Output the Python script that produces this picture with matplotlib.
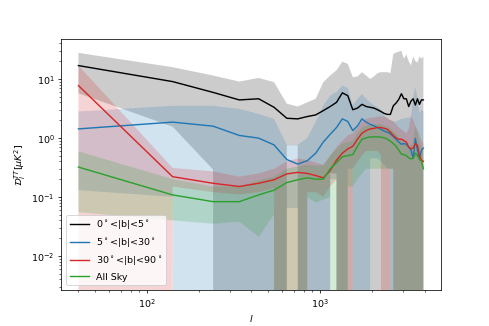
import numpy as np
import matplotlib
matplotlib.use("Agg")
import matplotlib.pyplot as plt

# multipole bins
ell = [40, 140, 240, 340, 440, 540, 640, 740, 840, 940, 1040, 1140, 1240, 1340,
       1440, 1540, 1640, 1740, 1840, 1940, 2040, 2140, 2240, 2340, 2440, 2540,
       2640, 2740, 2840, 2940, 3040, 3140, 3240, 3340, 3440, 3540, 3640, 3740,
       3840, 3940]

# 0 < |b| < 5
d_low = [16.8, 9.0, 5.9, 4.4, 4.6, 3.3, 2.15, 2.1, 2.3, 2.45, 2.9, 3.4, 4.0, 5.8,
         5.2, 3.0, 3.2, 3.7, 3.4, 3.3, 3.2, 3.0, 2.8, 2.6, 2.5, 2.5, 3.5, 3.9, 4.5,
         5.6, 4.6, 4.6, 3.4, 4.2, 4.6, 3.6, 4.6, 3.7, 4.4, 4.4]
d_low_hi = [27.6, 15.8, 11.4, 9.0, 10.4, 8.8, 3.8, 3.4, 4.0, 4.6, 8.8, 11.4, 14, 19.6,
            18, 10.7, 11, 13, 11.4, 10, 11, 12.5, 13, 13, 13, 12.5, 26.5, 28, 29, 30,
            22, 26, 20, 17, 24, 20, 19, 24, 22, 24]
d_low_lo = [5.7, 1.55, 0.29, -1, -1, -1, 0.75, 0.75, -1, -1, -1, 0.25, 0.25, -1,
            -1, -1, -1, -1, -1, -1, -1, -1, -1, -1, -1, -1, -1, -1, -1, -1,
            -1, -1, -1, -1, -1, -1, -1, -1, -1, -1]

# 5 < |b| < 30
d_mid = [1.42, 1.85, 1.58, 1.1, 0.99, 0.76, 0.43, 0.36, 0.41, 0.55, 0.85, 1.15, 1.5, 2.1,
         1.9, 1.33, 1.6, 2.1, 1.85, 1.7, 1.6, 1.5, 1.4, 1.3, 1.25, 1.17, 1.05, 0.95,
         0.85, 0.78, 0.8, 0.78, 0.7, 0.62, 0.45, 0.97, 0.62, 0.45, 0.62, 0.67]
d_mid_hi = [2.8, 3.5, 3.5, 3.1, 2.55, 2.1, 0.76, 0.76, 1.0, 1.87, 3.5, 5.2, 6.0, 7.7,
            7.0, 3.5, 4.6, 5.5, 4.6, 4.0, 3.6, 3.3, 3.0, 2.4, 2.1, 2.0, 1.9, 1.9, 2.0,
            2.1, 2.1, 2.2, 2.2, 2.2, 5.0, 7.2, 5.0, 2.6, 3.0, 2.8]
d_mid_lo = [0.13, 0.1, -1, -1, -1, -1, 0.065, 0.065, -1, -1, -1, 0.2, 0.2, -1,
            0.3, 0.3, -1, -1, -1, 0.45, 0.45, 0.45, 0.4, 0.35, 0.3, 0.3, -1, -1,
            -1, -1, -1, -1, -1, -1, -1, -1, -1, -1, -1, -1]

# 30 < |b| < 90
d_high = [7.7, 0.22, 0.17, 0.15, 0.17, 0.195, 0.245, 0.26, 0.25, 0.23, 0.21, 0.28, 0.42,
          0.55, 0.65, 0.72, 0.95, 1.2, 1.33, 1.42, 1.45, 1.5, 1.5, 1.45, 1.4, 1.25,
          1.1, 1.0, 0.95, 0.95, 0.9, 0.85, 0.7, 0.65, 0.68, 0.8, 0.75, 0.5, 0.42, 0.4]
d_high_hi = [16.8, 0.31, 0.27, 0.22, 0.25, 0.3, 0.4, 0.45, 0.42, 0.38, 0.35, 0.5, 0.7,
             0.9, 1.1, 1.2, 1.5, 1.9, 2.1, 2.2, 2.2, 2.3, 2.3, 2.3, 2.2, 2.0, 1.9,
             1.7, 1.5, 1.4, 1.3, 1.2, 1.4, 2.4, 2.0, 1.6, 1.4, 1.1, 0.9, 0.8]
d_high_lo = [-1, 0.15, 0.12, 0.11, 0.12, 0.14, -1, -1, 0.12, 0.12, 0.1, 0.15, 0.2, -1,
             -1, 0.3, 0.4, 0.5, 0.6, 0.6, 0.6, 0.6, 0.5, -1, -1, 0.3, 0.3, -1,
             -1, -1, -1, -1, -1, -1, -1, -1, -1, -1, -1, -1]

# All sky
d_all = [0.32, 0.108, 0.083, 0.083, 0.108, 0.13, 0.175, 0.195, 0.21, 0.2, 0.2, 0.3, 0.38,
         0.48, 0.5, 0.52, 0.72, 0.95, 1.0, 1.04, 1.04, 1.04, 1.03, 1.0, 0.95, 0.88,
         0.8, 0.72, 0.62, 0.53, 0.52, 0.5, 0.46, 0.44, 0.45, 0.55, 0.5, 0.43, 0.4, 0.3]
d_all_hi = [0.59, 0.2, 0.15, 0.15, 0.19, 0.22, 0.3, 0.33, 0.35, 0.34, 0.34, 0.5, 0.65,
            0.8, 0.85, 0.9, 1.2, 1.5, 1.6, 1.7, 1.7, 1.7, 1.7, 1.6, 1.55, 1.45, 1.3,
            1.2, 1.0, 0.9, 0.85, 0.8, 0.75, 0.75, 0.9, 1.6, 1.2, 0.8, 0.7, 0.6]
d_all_lo = [0.055, 0.04, 0.035, 0.038, 0.021, 0.05, -1, -1, 0.1, 0.08, 0.09, 0.1, -1, -1,
            0.15, 0.15, 0.2, 0.25, 0.3, 0.3, 0.3, 0.3, 0.3, 0.3, 0.3, 0.3, 0.3, -1,
            -1, -1, -1, -1, -1, -1, -1, -1, -1, -1, -1, -1]

labels = ["0$^\\circ$<|b|<5$^\\circ$", "5$^\\circ$<|b|<30$^\\circ$",
          "30$^\\circ$<|b|<90$^\\circ$", "All Sky"]
colors = ["k", "C0", "C3", "C2"]

fig, ax = plt.subplots(figsize=(7.2, 4.8), dpi=68)
series = [(d_low, d_low_lo, d_low_hi), (d_mid, d_mid_lo, d_mid_hi),
          (d_high, d_high_lo, d_high_hi), (d_all, d_all_lo, d_all_hi)]
for (y, lo, hi), lab, c in zip(series, labels, colors):
    ax.fill_between(ell, lo, hi, color=c, alpha=0.2, linewidth=0)
    ax.plot(ell, y, color=c, label=lab)

ax.set_xscale("log")
ax.set_yscale("log")
ax.set_ylim(10 ** -2.58, 10 ** 1.68)
ax.set_xlabel("$l$")
ax.set_ylabel(r"$\mathcal{D}_l^{TT}[\mu K^2]$")
ax.legend(loc="lower left")
fig.savefig("out.png", dpi=68)
